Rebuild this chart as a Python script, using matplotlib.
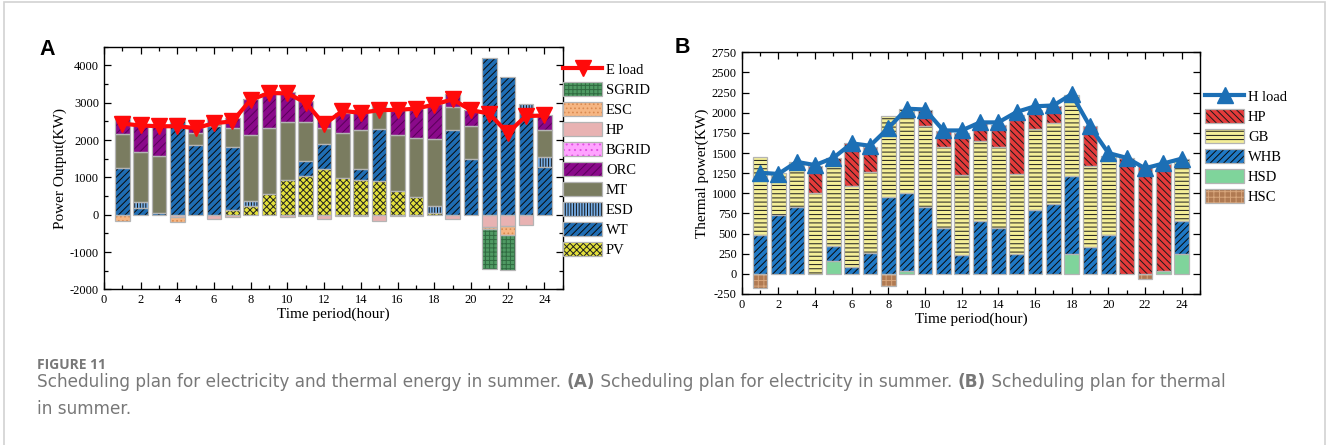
import matplotlib
matplotlib.use("Agg")
import matplotlib.pyplot as plt
import numpy as np
from matplotlib.patches import Patch, Rectangle
from matplotlib.lines import Line2D
from matplotlib.legend_handler import HandlerTuple
from matplotlib.ticker import MultipleLocator

hours = np.arange(1, 25)

# ---------------- Electricity balance (kW) ----------------
pv = [0, 0, 0, 0, 0, 0, 125, 230, 545, 930, 1040, 1215,
      990, 930, 895, 640, 465, 55, 0, 0, 0, 0, 0, 0]
wt = [1250, 180, 40, 2580, 1860, 2375, 1695, 0, 0, 0, 400, 685,
      0, 285, 1395, 0, 0, 0, 2270, 1490, 4200, 3690, 2730, 1285]
esd = [0, 160, 0, 0, 0, 0, 0, 130, 0, 0, 0, 0,
       0, 0, 0, 0, 0, 175, 0, 0, 0, 0, 225, 250]
mt = [910, 1350, 1530, 0, 340, 60, 490, 1780, 1775, 1550, 1050, 410,
      1210, 1055, 650, 1485, 1595, 1790, 620, 885, 0, 0, 0, 735]
orc = [480, 710, 830, 0, 140, 165, 270, 970, 950, 820, 560, 250,
       530, 490, 60, 695, 790, 940, 330, 425, 0, 0, 0, 400]
bgrid = [0] * 24
hp_e = [0, 0, 0, -70, 0, -125, -70, 0, 0, -50, -40, -125,
        -30, -40, -170, -40, -40, 0, -105, 0, -320, -300, -285, 0]
esc = [-160, 0, 0, -130, 0, 0, 0, 0, 0, 0, 0, 0,
       0, 0, 0, 0, 0, 0, 0, 0, -50, -255, 0, 0]
sgrid = [0] * 20 + [-1095, -925, 0, 0]
e_load = [2440, 2390, 2370, 2370, 2320, 2450, 2500, 3080, 3260, 3250, 3000, 2420,
          2780, 2730, 2800, 2810, 2840, 2950, 3090, 2800, 2710, 2190, 2640, 2660]

# ---------------- Heat balance (kW) ----------------
hsd = [0, 0, 0, 0, 165, 0, 0, 0, 33, 0, 0, 0,
       0, 0, 0, 0, 0, 250, 0, 0, 0, 0, 40, 250]
whb = [485, 725, 835, 0, 185, 85, 265, 960, 967, 835, 565, 230,
       650, 565, 250, 795, 865, 965, 330, 480, 0, 0, 0, 400]
gb = [965, 525, 555, 1000, 1000, 1000, 995, 1000, 1050, 995, 1005, 1000,
      995, 1010, 990, 1005, 1005, 1000, 1005, 980, 0, 0, 0, 780]
hp_h = [0, 0, 0, 340, 85, 535, 320, 0, 0, 205, 200, 520,
        225, 275, 735, 230, 210, 0, 505, 0, 1435, 1355, 1325, 0]
hsc = [-180, 0, 0, 0, 0, 0, 0, -155, 0, 0, 0, 0,
       0, 0, 0, 0, 0, 0, 0, 0, 0, -58, 0, 0]
h_load = [1255, 1240, 1390, 1350, 1440, 1620, 1590, 1810, 2050, 2040, 1780, 1780,
          1880, 1880, 2010, 2080, 2090, 2230, 1830, 1500, 1440, 1310, 1370, 1430]

SERIF = "Liberation Serif"
EDGE = "#b4b4b4"
plt.rcParams["hatch.linewidth"] = 0.7
plt.rcParams["font.family"] = SERIF
plt.rcParams["axes.unicode_minus"] = False

W, H = 1328, 445
fig = plt.figure(figsize=(W / 100, H / 100), dpi=100)


def fx(px):
    return px / W


def fy(py):
    return 1 - py / H


def stacked(ax, series, width=0.8):
    pos = np.zeros(24)
    neg = np.zeros(24)
    handles = []
    for name, vals, face, hatch, hcol in series:
        v = np.asarray(vals, float)
        base = np.where(v >= 0, pos, neg)
        m = v != 0
        if m.any():
            ax.bar(hours[m], v[m], width, bottom=base[m], color=face,
                   hatch=hatch, edgecolor=hcol, linewidth=0, zorder=2)
            ax.bar(hours[m], v[m], width, bottom=base[m], facecolor="none",
                   edgecolor=EDGE, linewidth=0.9, zorder=3)
        pos += np.where(v > 0, v, 0)
        neg += np.where(v < 0, v, 0)
        h = (Patch(facecolor=face, hatch=hatch, edgecolor=hcol, linewidth=0),
             Patch(facecolor="none", edgecolor=EDGE, linewidth=0.9))
        handles.append((h, name))
    return handles


def style_axes(ax):
    ax.tick_params(which="both", direction="in", top=True, right=True,
                   labelsize=9, width=0.9)
    ax.tick_params(which="major", length=5)
    ax.tick_params(which="minor", length=3)
    for s in ax.spines.values():
        s.set_linewidth(1.0)


LEG_KW = dict(loc="upper left", frameon=False,
              prop={"family": SERIF, "size": 10.5}, handlelength=2.7,
              handleheight=1.15, labelspacing=0.33, handletextpad=0.25,
              borderpad=0, borderaxespad=0,
              handler_map={tuple: HandlerTuple(ndivide=1, pad=0)})

# ---------------- Panel A ----------------
axA = fig.add_axes([fx(104), fy(289.4), fx(562.6 - 104), fy(46.7) - fy(289.4)])
seriesA = [
    ("PV", pv, "#e3e03a", "xxxxx", "#222222"),
    ("WT", wt, "#1f6db3", "/////", "#0a0a0a"),
    ("ESD", esd, "#77aee6", "||||||", "#111111"),
    ("MT", mt, "#7a7c60", None, "#7a7c60"),
    ("ORC", orc, "#8a0a8a", "////", "#5a005a"),
    ("BGRID", bgrid, "#ffa3ff", "...", "#e050e0"),
    ("HP", hp_e, "#e8b2b2", None, "#e8b2b2"),
    ("ESC", esc, "#f6b683", "....", "#d98a50"),
    ("SGRID", sgrid, "#4f9a63", "++++", "#2f6a40"),
]
hA = stacked(axA, seriesA)
axA.plot(hours, e_load, color="#ff0a0a", lw=3, marker="v",
         markersize=11, zorder=5)
axA.set_xlim(0, 25)
axA.set_ylim(-2000, 4500)
axA.xaxis.set_major_locator(MultipleLocator(2))
axA.xaxis.set_minor_locator(MultipleLocator(1))
axA.set_yticks([-2000, -1000, 0, 1000, 2000, 3000, 4000])
axA.yaxis.set_minor_locator(MultipleLocator(500))
axA.set_xlabel("Time period(hour)", fontsize=11, family=SERIF, labelpad=1)
axA.set_ylabel("Power Output(KW)", fontsize=11, family=SERIF, labelpad=2)
style_axes(axA)

legA_handles = [Line2D([], [], color="#ff0a0a", lw=3, marker="v", markersize=11)]
legA_labels = ["E load"]
for h, n in reversed(hA):
    legA_handles.append(h)
    legA_labels.append(n)
fig.legend(legA_handles, legA_labels, bbox_to_anchor=(fx(563), fy(62)), **LEG_KW)

# ---------------- Panel B ----------------
axB = fig.add_axes([fx(741.7), fy(294), fx(1200 - 741.7), fy(52.3) - fy(294)])
seriesB = [
    ("HSD", hsd, "#7fd49b", None, "#7fd49b"),
    ("WHB", whb, "#1f78c4", "/////", "#0a0a0a"),
    ("GB", gb, "#f4ee98", "----", "#1a1a1a"),
    ("HP", hp_h, "#e43a3a", "\\\\\\\\\\", "#1a1a1a"),
    ("HSC", hsc, "#b07a52", "+++", "#d8a67c"),
]
hB = stacked(axB, seriesB)
axB.plot(hours, h_load, color="#1c6fb5", lw=3, marker="^",
         markersize=11, zorder=5)
axB.set_xlim(0, 25)
axB.set_ylim(-250, 2750)
axB.xaxis.set_major_locator(MultipleLocator(2))
axB.xaxis.set_minor_locator(MultipleLocator(1))
axB.yaxis.set_major_locator(MultipleLocator(250))
axB.set_xlabel("Time period(hour)", fontsize=11, family=SERIF, labelpad=1)
axB.set_ylabel("Thermal power(KW)", fontsize=11, family=SERIF, labelpad=2)
style_axes(axB)

orderB = ["HP", "GB", "WHB", "HSD", "HSC"]
lookB = {n: h for h, n in hB}
legB_handles = [Line2D([], [], color="#1c6fb5", lw=3, marker="^", markersize=11)]
legB_labels = ["H load"]
for n in orderB:
    legB_handles.append(lookB[n])
    legB_labels.append(n)
fig.legend(legB_handles, legB_labels, bbox_to_anchor=(fx(1205), fy(89)), **LEG_KW)

# ---------------- Panel letters ----------------
fig.text(fx(39), fy(55), "A", fontsize=15.5, fontweight="bold",
         family="Liberation Sans", ha="left", va="baseline")
fig.text(fx(675), fy(53), "B", fontsize=15.5, fontweight="bold",
         family="Liberation Sans", ha="left", va="baseline")

# ---------------- Caption ----------------
CAP = "DejaVu Sans"
CAPC = "#787878"
fig.text(fx(37), fy(369), "FIGURE 11", fontsize=10, fontweight="bold",
         family="Open Sans", color=CAPC, va="baseline")

renderer = fig.canvas.get_renderer()


def text_width(s, weight, size):
    probe = fig.text(0, 0, "x" + s + "x", fontsize=size, family=CAP, fontweight=weight)
    ref = fig.text(0, 0, "xx", fontsize=size, family=CAP, fontweight=weight)
    w = probe.get_window_extent(renderer).width - ref.get_window_extent(renderer).width
    probe.remove()
    ref.remove()
    return w


parts = [
    ("Scheduling plan for electricity and thermal energy in summer. ", "normal"),
    ("(A)", "bold"),
    (" Scheduling plan for electricity in summer. ", "normal"),
    ("(B)", "bold"),
    (" Scheduling plan for thermal", "normal"),
]
# Size the caption so the first line runs to the right margin
base = 10.0
total = sum(text_width(s, w, base) for s, w in parts)
cap_size = base * (1225 - 37) / total

xpx = 37
for s, wgt in parts:
    fig.text(fx(xpx), fy(387), s, fontsize=cap_size, family=CAP, fontweight=wgt,
             color=CAPC, va="baseline")
    xpx += text_width(s, wgt, cap_size)
fig.text(fx(37), fy(414), "in summer.", fontsize=cap_size, family=CAP,
         color=CAPC, va="baseline")

# Light frame around the figure
fig.add_artist(Rectangle((fx(4), -0.05), fx(1325 - 4), fy(2) + 0.05,
                         transform=fig.transFigure, facecolor="none",
                         edgecolor="#d2d2d2", linewidth=1.2, clip_on=False))

fig.savefig("out.png", dpi=100)
